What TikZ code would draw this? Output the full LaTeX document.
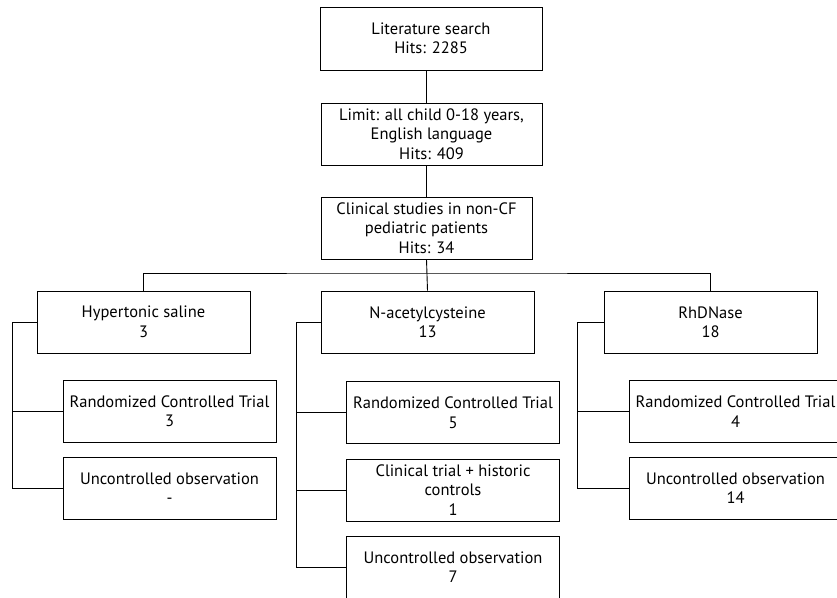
\documentclass[tikz,border=0pt]{standalone}
\usepackage{fontspec}
\setmainfont{PT Sans}
\usepackage{tikz}
\usetikzlibrary{positioning}
\tikzstyle{stage} = [rectangle, draw, line width=0.9pt, minimum width=213pt, minimum height=62pt, text centered, align=center, inner sep=1pt]
\tikzstyle{link} = [line width=0.9pt]

\begin{document}
\begin{tikzpicture}[x=1pt, y=-1pt, font=\fontsize{16.5}{19.5}\selectfont]
\clip (0,0) rectangle (837,597);
% Search funnel
\node (search) [stage, minimum width=222pt, minimum height=63pt] at (431,38.5) {Literature search\\Hits: 2285};
\node (limit) [stage, minimum width=221pt] at (431.5,134) {Limit: all child 0-18 years,\\English language\\Hits: 409};
\node (clinical) [stage, minimum width=211pt] at (426.5,228) {Clinical studies in non-CF\\pediatric patients\\Hits: 34};

% Therapies
\node (hs) [stage] at (143.5,322) {Hypertonic saline\\3};
\node (nac) [stage] at (427.5,322) {N-acetylcysteine\\13};
\node (rhd) [stage] at (710.5,322) {RhDNase\\18};

% Study types
\node (hsrct) [stage] at (169.5,411) {Randomized Controlled Trial\\3};
\node (hsunc) [stage] at (169.5,488) {Uncontrolled observation\\-};
\node (nacrct) [stage] at (453,412.5) {Randomized Controlled Trial\\5};
\node (nacct) [stage] at (453,490) {Clinical trial + historic\\controls\\1};
\node (nacunc) [stage] at (453,567) {Uncontrolled observation\\7};
\node (rhdrct) [stage] at (735.5,411.5) {Randomized Controlled Trial\\4};
\node (rhdunc) [stage] at (735.5,488) {Uncontrolled observation\\14};

\coordinate (bus) at (427,273);
\coordinate (hsbar) at (12,322);
\coordinate (nacbar) at (296,322);
\coordinate (rhdbar) at (577,322);

\draw[link] (search.south -| clinical.center) -- (limit.north -| clinical.center);
\draw[link] (limit.south -| clinical.center) -- (clinical.north);
\draw[link] (clinical.south) -- (nac.north);
\draw[link] (hs.north) |- (bus) -| (rhd.north);

\draw[link] (hs.west) -- (hsbar) |- (hsunc.west);
\draw[link] (hsrct.west) -- (hsrct.west -| hsbar);
\draw[link] (nac.west) -- (nacbar) |- (nacunc.west);
\draw[link] (nacrct.west) -- (nacrct.west -| nacbar);
\draw[link] (nacct.west) -- (nacct.west -| nacbar);
\draw[link] (rhd.west) -- (rhdbar) |- (rhdunc.west);
\draw[link] (rhdrct.west) -- (rhdrct.west -| rhdbar);
\end{tikzpicture}
\end{document}
